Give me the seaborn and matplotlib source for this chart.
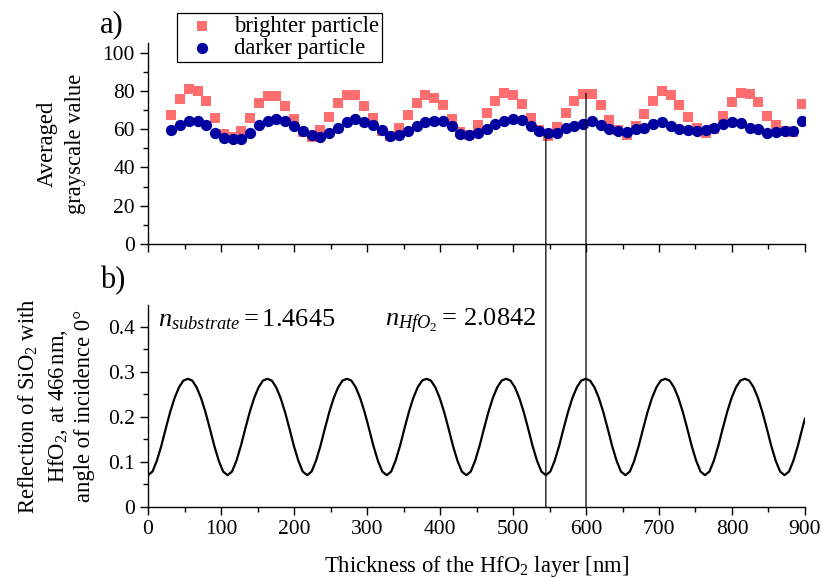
import numpy as np
import pandas as pd
import matplotlib
matplotlib.use('Agg')
import matplotlib.pyplot as plt
import seaborn as sns
from matplotlib.patches import ConnectionPatch
from matplotlib.ticker import MultipleLocator, FuncFormatter

# a) averaged grayscale value of the two particles vs HfO2 thickness
thickness = [32, 44, 56, 68, 80, 92, 104, 116, 128, 140, 152, 164, 176, 188, 200,
             212, 224, 236, 248, 260, 272, 284, 296, 308, 320, 332, 344, 356, 368,
             380, 392, 404, 416, 428, 440, 452, 464, 476, 488, 500, 512, 524, 536,
             548, 560, 572, 584, 596, 608, 620, 632, 644, 656, 668, 680, 692, 704,
             716, 728, 740, 752, 764, 776, 788, 800, 812, 824, 836, 848, 860, 872,
             884, 896]
brighter = [67.6, 75.8, 81.0, 80.1, 74.5, 65.7, 57.2, 55.8, 58.9, 65.9, 73.5, 77.5,
            77.5, 72.3, 65.4, 58.5, 55.8, 59.6, 66.2, 73.5, 77.8, 77.8, 72.3, 65.8,
            59.0, 56.5, 60.5, 67.4, 73.7, 77.8, 76.4, 72.6, 65.4, 58.4, 57.0, 61.9,
            68.5, 74.9, 78.9, 78.0, 73.2, 65.7, 59.3, 56.5, 61.2, 68.5, 74.9, 78.2,
            78.6, 72.6, 64.8, 59.3, 56.7, 61.4, 68.0, 74.9, 80.1, 78.0, 72.6, 66.2,
            60.7, 57.9, 60.0, 66.7, 74.4, 78.9, 78.4, 74.0, 67.1, 61.9, 58.9, 58.5,
            73.2]
darker = [59.3, 62.4, 64.5, 64.1, 62.0, 58.2, 55.5, 54.8, 54.8, 57.9, 61.9, 64.5,
          65.5, 64.1, 61.7, 59.1, 56.8, 55.8, 58.1, 60.7, 63.6, 65.5, 63.8, 62.2,
          59.6, 56.2, 57.0, 58.8, 61.4, 63.8, 64.0, 64.5, 61.7, 57.6, 57.0, 58.2,
          60.0, 62.6, 64.1, 65.5, 64.7, 61.6, 59.1, 57.9, 58.2, 60.6, 61.6, 62.8,
          64.0, 62.0, 60.1, 58.9, 58.3, 60.1, 60.7, 62.6, 63.8, 61.4, 60.2, 59.4,
          59.1, 59.6, 60.7, 62.6, 63.8, 63.3, 60.7, 60.0, 58.2, 58.6, 59.1, 58.9,
          64.5]

# b) reflection of SiO2 with HfO2 at 466 nm
model_thickness = [
    0, 6.1, 12.1, 18.2, 24.2, 30.3, 36.3, 42.4, 48.4, 54.5, 60.6, 66.6, 72.7, 78.7, 84.8, 90.8, 96.9, 102.9,
    109, 115.1, 121.1, 127.2, 133.2, 139.3, 145.3, 151.4, 157.4, 163.5, 169.6, 175.6, 181.7, 187.7, 193.8, 199.8, 205.9, 211.9,
    218, 224.1, 230.1, 236.2, 242.2, 248.3, 254.3, 260.4, 266.4, 272.5, 278.6, 284.6, 290.7, 296.7, 302.8, 308.8, 314.9, 320.9,
    327, 333.1, 339.1, 345.2, 351.2, 357.3, 363.3, 369.4, 375.4, 381.5, 387.6, 393.6, 399.7, 405.7, 411.8, 417.8, 423.9, 429.9,
    436, 442.1, 448.1, 454.2, 460.2, 466.3, 472.3, 478.4, 484.4, 490.5, 496.6, 502.6, 508.7, 514.7, 520.8, 526.8, 532.9, 538.9,
    545, 551.1, 557.1, 563.2, 569.2, 575.3, 581.3, 587.4, 593.4, 599.5, 605.6, 611.6, 617.7, 623.7, 629.8, 635.8, 641.9, 647.9,
    654, 660.1, 666.1, 672.2, 678.2, 684.3, 690.3, 696.4, 702.4, 708.5, 714.6, 720.6, 726.7, 732.7, 738.8, 744.8, 750.9, 756.9,
    763, 769.1, 775.1, 781.2, 787.2, 793.3, 799.3, 805.4, 811.4, 817.5, 823.6, 829.6, 835.7, 841.7, 847.8, 853.8, 859.9, 865.9,
    872, 878.1, 884.1, 890.2, 896.2, 900]
model_reflection = [
    0.070, 0.078, 0.102, 0.135, 0.173, 0.210, 0.241, 0.265, 0.280, 0.284, 0.280, 0.265, 0.241, 0.210, 0.173, 0.135, 0.102, 0.078,
    0.070, 0.078, 0.102, 0.135, 0.173, 0.210, 0.241, 0.265, 0.280, 0.284, 0.280, 0.265, 0.241, 0.210, 0.173, 0.135, 0.102, 0.078,
    0.070, 0.078, 0.102, 0.135, 0.173, 0.210, 0.241, 0.265, 0.280, 0.284, 0.280, 0.265, 0.241, 0.210, 0.173, 0.135, 0.102, 0.078,
    0.070, 0.078, 0.102, 0.135, 0.173, 0.210, 0.241, 0.265, 0.280, 0.284, 0.280, 0.265, 0.241, 0.210, 0.173, 0.135, 0.102, 0.078,
    0.070, 0.078, 0.102, 0.135, 0.173, 0.210, 0.241, 0.265, 0.280, 0.284, 0.280, 0.265, 0.241, 0.210, 0.173, 0.135, 0.102, 0.078,
    0.070, 0.078, 0.102, 0.135, 0.173, 0.210, 0.241, 0.265, 0.280, 0.284, 0.280, 0.265, 0.241, 0.210, 0.173, 0.135, 0.102, 0.078,
    0.070, 0.078, 0.102, 0.135, 0.173, 0.210, 0.241, 0.265, 0.280, 0.284, 0.280, 0.265, 0.241, 0.210, 0.173, 0.135, 0.102, 0.078,
    0.070, 0.078, 0.102, 0.135, 0.173, 0.210, 0.241, 0.265, 0.280, 0.284, 0.280, 0.265, 0.241, 0.210, 0.173, 0.135, 0.102, 0.078,
    0.070, 0.078, 0.102, 0.135, 0.173, 0.196]

# vertical guide lines (thickness, value where they start in panel a)
guide_x = [545, 600]
guide_top = [56.7, 78.7]

sns.set_style('ticks', rc={'axes.edgecolor': 'black', 'text.color': 'black',
                           'axes.labelcolor': 'black', 'xtick.color': 'black',
                           'ytick.color': 'black'})
plt.rcParams['font.family'] = ['Liberation Serif', 'DejaVu Serif']
plt.rcParams['mathtext.fontset'] = 'custom'
plt.rcParams['mathtext.rm'] = 'Liberation Serif'
plt.rcParams['mathtext.it'] = 'Liberation Serif:italic'
plt.rcParams['mathtext.bf'] = 'Liberation Serif:bold'

fig = plt.figure(figsize=(8.21, 5.79), dpi=100)
ax1 = fig.add_axes([0.1803, 0.5786, 0.8002, 0.3472])
ax2 = fig.add_axes([0.1803, 0.1249, 0.8002, 0.3484])

grey = pd.DataFrame({'thickness': thickness, 'brighter': brighter, 'darker': darker})
sns.scatterplot(data=grey, x='thickness', y='brighter', marker='s', s=50,
                color='#ff6e6e', linewidth=0, ax=ax1, label='brighter particle')
sns.scatterplot(data=grey, x='thickness', y='darker', marker='o', s=66,
                color='#00009e', linewidth=0, ax=ax1, label='darker particle')

refl = pd.DataFrame({'thickness': model_thickness, 'reflection': model_reflection})
sns.lineplot(data=refl, x='thickness', y='reflection', color='black', lw=1.6, ax=ax2)

for ax in (ax1, ax2):
    sns.despine(ax=ax)
    ax.set_xlim(0, 900)
    ax.xaxis.set_major_locator(MultipleLocator(100))
    ax.xaxis.set_minor_locator(MultipleLocator(50))
    ax.tick_params(which='major', direction='out', length=6, width=1, labelsize=15.5)
    ax.tick_params(which='minor', direction='out', length=3.5, width=1)
    for s in ('left', 'bottom'):
        ax.spines[s].set_linewidth(1)

ax1.set_ylim(0, 105)
ax1.yaxis.set_major_locator(MultipleLocator(20))
ax1.yaxis.set_minor_locator(MultipleLocator(10))
ax1.tick_params(labelbottom=False)
ax1.set_xlabel('')
ax1.set_ylabel('Averaged\ngrayscale value', fontsize=16.3, labelpad=12, linespacing=1.45)

ax2.set_ylim(0, 0.448)
ax2.yaxis.set_major_locator(MultipleLocator(0.1))
ax2.yaxis.set_minor_locator(MultipleLocator(0.05))
ax2.yaxis.set_major_formatter(FuncFormatter(lambda v, p: '0' if abs(v) < 1e-9 else f'{v:.1f}'))
ax2.set_xlabel('Thickness of the HfO$_2$ layer [nm]', fontsize=16.3, labelpad=11)
ax2.set_ylabel('Reflection of SiO$_2$ with\nHfO$_2$, at 466$\\,$nm,\nangle of incidence 0°',
               fontsize=16.3, labelpad=9, linespacing=1.3)

ax2.text(14, 0.40, r'$n_{substrate}=1.4645$', fontsize=19, va='baseline')
ax2.text(324, 0.40, r'$n_{HfO_2}=\,2.0842$', fontsize=19, va='baseline')

ax1.legend(loc='upper left', bbox_to_anchor=(177 / 821, 1 - 13 / 579),
           bbox_transform=fig.transFigure, fontsize=16.3, frameon=True,
           fancybox=False, framealpha=1, edgecolor='black', borderpad=0.12,
           labelspacing=0.05, handlelength=2.0, handletextpad=0.4, borderaxespad=0)
ax1.get_legend().get_frame().set_linewidth(0.9)

for x, top in zip(guide_x, guide_top):
    con = ConnectionPatch(xyA=(x, top), coordsA=ax1.transData, xyB=(x, 0),
                          coordsB=ax2.transData, color='black', lw=0.9)
    fig.add_artist(con)

fig.text(112 / 821, 1 - 25 / 579, 'a)', fontsize=22, ha='center', va='center')
fig.text(113 / 821, 1 - 281 / 579, 'b)', fontsize=22, ha='center', va='center')

fig.savefig('out.png', dpi=100)
